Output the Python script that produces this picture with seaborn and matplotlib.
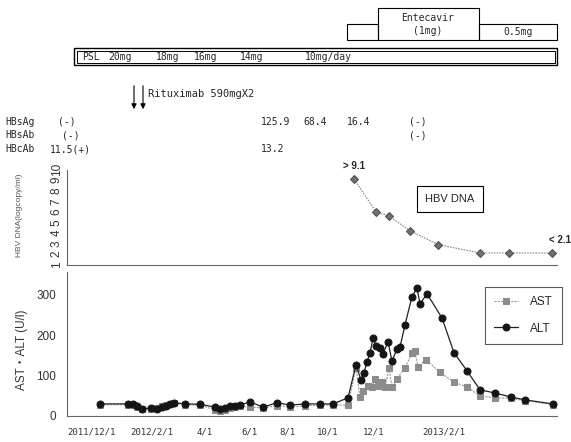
import matplotlib
matplotlib.use("Agg")
import matplotlib.pyplot as plt
import seaborn as sns
import pandas as pd
from matplotlib.patches import Rectangle

# ---------------- data ----------------
# time positions (chart units along the shared time axis, 0..490)
dna_t = [287, 309, 322, 343, 371, 413, 442, 485]
dna_log = [9.1, 6.0, 5.6, 4.2, 2.9, 2.1, 2.1, 2.1]

alt_t = [33, 61, 66, 70, 75, 84, 90, 95, 99, 103, 107, 118, 133, 148, 153, 158, 163, 168, 173, 183,
         196, 210, 223, 238, 253, 266, 281, 289, 294, 297, 300, 303, 306, 309, 313, 316, 321, 325, 330,
         333, 338, 345, 350, 353, 360, 375, 387, 400, 413, 428, 444, 458, 486]
alt_val = [30, 30, 30, 25, 18, 20, 18, 22, 26, 30, 33, 30, 29, 22, 18, 20, 24, 26, 27, 35,
           22, 33, 27, 30, 30, 30, 45, 127, 89, 107, 134, 156, 193, 174, 169, 154, 184, 136, 166,
           171, 226, 296, 317, 278, 303, 243, 157, 112, 65, 57, 47, 40, 30]

ast_t = [33, 61, 66, 70, 75, 84, 90, 95, 99, 103, 107, 118, 133, 148, 153, 158, 163, 168, 173, 183,
         196, 210, 223, 238, 253, 266, 281, 289, 293, 296, 301, 305, 308, 311, 315, 318, 322, 325, 330,
         338, 345, 348, 351, 359, 373, 387, 400, 413, 428, 444, 458, 486]
ast_val = [28, 28, 27, 22, 17, 18, 20, 24, 27, 30, 32, 28, 27, 15, 12, 16, 20, 22, 24, 22,
           20, 26, 22, 25, 27, 27, 27, 120, 47, 62, 74, 72, 92, 74, 84, 72, 118, 72, 92,
           120, 155, 160, 122, 140, 108, 84, 72, 50, 45, 44, 38, 28]

date_labels = ["2011/12/1", "2012/2/1", "4/1", "6/1", "8/1", "10/1", "12/1", "2013/2/1"]
date_label_pos = [25, 85, 138, 182, 220, 261, 307, 377]
tick_marks = [0, 62, 124, 186, 248, 310, 372, 434]

dna_yticks = [1, 2, 3, 4, 5, 6, 7, 8, 9, 10]
lab_yticks = [0, 100, 200, 300]

psl_doses = ["PSL", "20mg", "18mg", "16mg", "14mg", "10mg/day"]
hbsag = ["(-)", "125.9", "68.4", "16.4", "(-)"]
hbsab = ["(-)", "(-)"]
hbcab = ["11.5(+)", "13.2"]

# ---------------- figure ----------------
sns.set_style("white")
plt.rcParams['font.family'] = ['Liberation Sans', 'Noto Sans CJK JP', 'DejaVu Sans']
W, H = 571, 442
fig = plt.figure(figsize=(W / 100, H / 100), dpi=100)

def fx(px):
    return px / W

def fy(py):
    return 1 - py / H

MONO = ['DejaVu Sans Mono', 'Noto Sans CJK JP']
FS = 7

# ---- HBV DNA axes ----
ax1 = fig.add_axes([fx(67), fy(264.6), fx(490), (264.6 - 169.5) / H])
dna_df = pd.DataFrame({"t": dna_t, "v": dna_log})
sns.lineplot(data=dna_df, x="t", y="v", ax=ax1, color="#8a8a8a", lw=0.8, linestyle=(0, (1.5, 1)),
             marker="D", markersize=4, markerfacecolor="#707070", markeredgecolor="#505050",
             estimator=None, sort=False)
ax1.set_xlim(0, 490)
ax1.set_ylim(1, 10)
ax1.set_yticks(dna_yticks)
ax1.set_yticklabels([str(v) for v in dna_yticks], rotation=90, fontsize=8.5, va="center", color="#333333")
ax1.set_xticks(tick_marks)
ax1.set_xticklabels([])
ax1.tick_params(axis="both", length=2, width=0.6, color="#777777", pad=1)
for s in ["top", "right"]:
    ax1.spines[s].set_visible(False)
for s in ["left", "bottom"]:
    ax1.spines[s].set_color("#666666")
    ax1.spines[s].set_linewidth(0.8)
ax1.set_xlabel("")
ax1.set_ylabel("")
ax1.annotate("> 9.1", (dna_t[0], dna_log[0]), xytext=(0, 6), textcoords="offset points",
             ha="center", va="bottom", fontsize=7, fontweight="bold", annotation_clip=False)
ax1.annotate("< 2.1", (dna_t[-1], dna_log[-1]), xytext=(-2, 6), textcoords="offset points",
             ha="left", va="bottom", fontsize=7, fontweight="bold", annotation_clip=False)
fig.text(fx(450), fy(199), "HBV DNA", ha="center", va="center", fontsize=8,
         bbox=dict(boxstyle="square,pad=0.75", fc="white", ec="black", lw=0.8))
fig.text(fx(20), fy(215), "HBV DNA(logcopy/ml)", rotation=90, ha="center", va="center",
         fontsize=6, color="#555555")

# ---- AST / ALT axes ----
ax2 = fig.add_axes([fx(67), fy(416), fx(490), (416 - 272) / H])
ast_df = pd.DataFrame({"t": ast_t, "v": ast_val})
alt_df = pd.DataFrame({"t": alt_t, "v": alt_val})
sns.lineplot(data=ast_df, x="t", y="v", ax=ax2, color="#9a9a9a", lw=0.8, linestyle=(0, (2, 1)),
             marker="s", markersize=4.5, markerfacecolor="#8c8c8c", markeredgecolor="#8c8c8c",
             estimator=None, sort=False, label="AST")
sns.lineplot(data=alt_df, x="t", y="v", ax=ax2, color="#222222", lw=0.9,
             marker="o", markersize=5, markerfacecolor="#151515", markeredgecolor="#151515",
             estimator=None, sort=False, label="ALT")
ax2.set_xlim(0, 490)
ax2.set_ylim(0, 357)
ax2.set_yticks(lab_yticks)
ax2.set_yticklabels([str(v) for v in lab_yticks], fontsize=8.5, color="#333333")
ax2.set_xticks(date_label_pos)
ax2.set_xticklabels(date_labels, fontsize=6.5, family=MONO, color="#333333")
ax2.tick_params(axis="x", length=0, pad=8)
ax2.tick_params(axis="y", length=0, pad=8)
ax2.set_xticks(tick_marks, minor=True)
ax2.tick_params(axis="x", which="minor", length=2, width=0.6, color="#777777")
for s in ["top", "right"]:
    ax2.spines[s].set_visible(False)
for s in ["left", "bottom"]:
    ax2.spines[s].set_color("#666666")
    ax2.spines[s].set_linewidth(0.8)
ax2.set_xlabel("")
ax2.set_ylabel("")
fig.text(fx(22), fy(350), "AST・ALT (U/l)", rotation=90, ha="center", va="center",
         fontsize=8.5, color="#333333")
leg = ax2.legend(loc="upper left", bbox_to_anchor=(fx(485), fy(287)), bbox_transform=fig.transFigure,
                 frameon=True, fancybox=False, fontsize=8.5, handlelength=2.0, labelspacing=1.2,
                 borderpad=0.8, handletextpad=1.0, borderaxespad=0)
leg.get_frame().set_edgecolor("#333333")
leg.get_frame().set_linewidth(0.8)

# ---- treatment boxes ----
def frect(x0, y0, x1, y1, lw=0.8):
    r = Rectangle((fx(x0), fy(y1)), fx(x1) - fx(x0), fy(y0) - fy(y1), transform=fig.transFigure,
                  fill=False, ec="black", lw=lw)
    fig.patches.append(r)

frect(347, 24, 378, 40)
frect(378, 8, 479, 40)
frect(479, 24, 557, 40)
fig.text(fx(428), fy(18), "Entecavir", ha="center", va="center", fontsize=FS, family=MONO)
fig.text(fx(428), fy(31), "(1mg)", ha="center", va="center", fontsize=FS, family=MONO)
fig.text(fx(518), fy(32), "0.5mg", ha="center", va="center", fontsize=FS, family=MONO)

frect(74, 48, 557, 65, lw=1.0)
frect(76.5, 50.5, 554.5, 62.5, lw=0.7)
psl_x = [82, 108, 156, 194, 240, 305]
for lab, x in zip(psl_doses, psl_x):
    fig.text(fx(x), fy(57), lab, ha="left", va="center", fontsize=FS, family=MONO)

for x in [134, 143]:
    fig.add_artist(matplotlib.patches.FancyArrowPatch((fx(x), fy(83)), (fx(x), fy(112)),
                   transform=fig.transFigure, arrowstyle="-|>,head_length=3,head_width=1.5",
                   color="black", lw=0.8, mutation_scale=1))
fig.text(fx(148), fy(94), "Rituximab 590mgX2", ha="left", va="center", fontsize=7.5, family=MONO)

fig.text(fx(5), fy(122), "HBsAg", ha="left", va="center", fontsize=FS, family=MONO)
for lab, x in zip(hbsag, [58, 261, 303, 347, 409]):
    fig.text(fx(x), fy(122), lab, ha="left", va="center", fontsize=FS, family=MONO)
fig.text(fx(5), fy(135), "HBsAb", ha="left", va="center", fontsize=FS, family=MONO)
for lab, x in zip(hbsab, [62, 409]):
    fig.text(fx(x), fy(135), lab, ha="left", va="center", fontsize=FS, family=MONO)
fig.text(fx(5), fy(149), "HBcAb", ha="left", va="center", fontsize=FS, family=MONO)
for lab, x in zip(hbcab, [50, 261]):
    fig.text(fx(x), fy(149), lab, ha="left", va="center", fontsize=FS, family=MONO)

fig.savefig("out.png", dpi=100)
